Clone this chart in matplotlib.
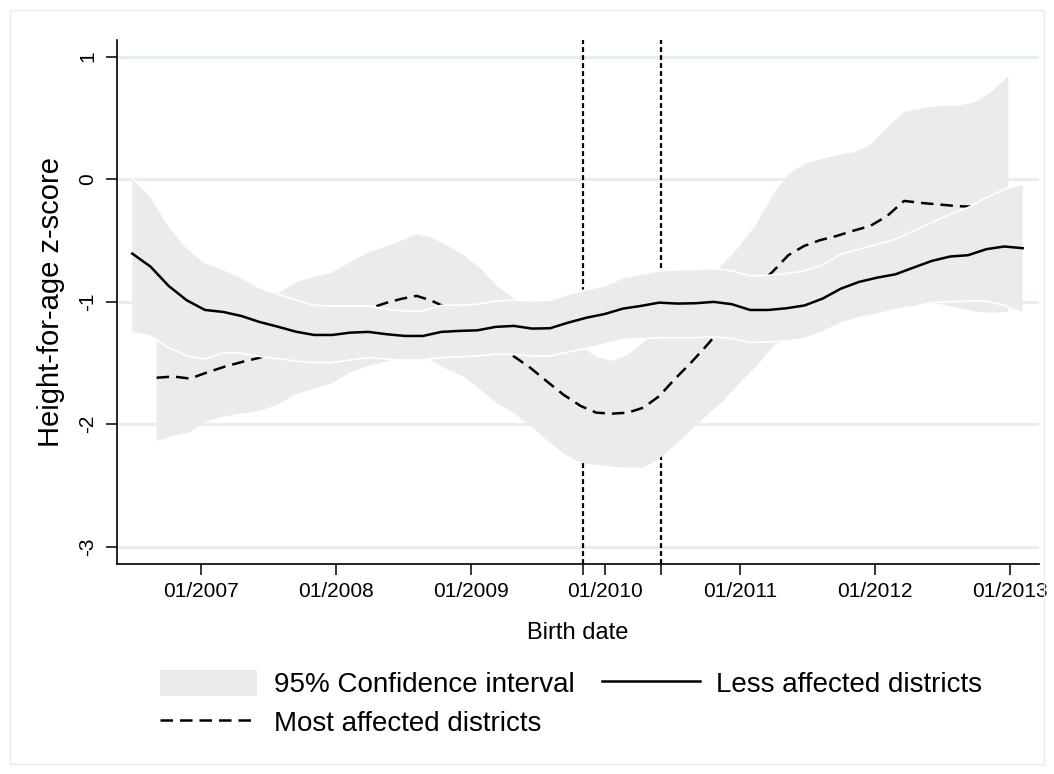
import numpy as np
import matplotlib
matplotlib.use('Agg')
import matplotlib.pyplot as plt
from matplotlib.patches import Patch, Rectangle
from matplotlib.lines import Line2D

plt.rcParams['font.family'] = ['Liberation Sans', 'DejaVu Sans']

# ---- data (x = months since 01/2007) ----
less_months = [-6.12, -4.50, -2.88, -1.27, 0.35, 1.97, 3.59, 5.21, 6.82, 8.44,
               10.06, 11.68, 13.30, 14.91, 16.53, 18.15, 19.77, 21.39, 23.00, 24.62,
               26.24, 27.86, 29.48, 31.09, 32.71, 34.33, 35.95, 37.57, 39.18, 40.80,
               42.42, 44.04, 45.66, 47.27, 48.89, 50.51, 52.13, 53.75, 55.36, 56.98,
               58.60, 60.22, 61.84, 63.45, 65.07, 66.69, 68.31, 69.93, 71.54, 73.16]
less_mean = [-0.607, -0.713, -0.871, -0.988, -1.067, -1.083, -1.116, -1.165, -1.203, -1.244,
             -1.271, -1.271, -1.252, -1.246, -1.265, -1.279, -1.279, -1.246, -1.238, -1.233,
             -1.205, -1.197, -1.219, -1.216, -1.170, -1.130, -1.100, -1.056, -1.034, -1.007,
             -1.015, -1.012, -1.001, -1.020, -1.067, -1.067, -1.053, -1.030, -0.974, -0.893,
             -0.838, -0.803, -0.776, -0.721, -0.667, -0.631, -0.620, -0.571, -0.549, -0.563]
less_upper = [0.006, -0.136, -0.380, -0.558, -0.680, -0.735, -0.803, -0.884, -0.939, -0.985,
              -1.029, -1.034, -1.034, -1.034, -1.061, -1.075, -1.075, -1.029, -1.029, -1.020,
              -0.993, -0.988, -0.993, -0.988, -0.939, -0.900, -0.870, -0.803, -0.776, -0.748,
              -0.740, -0.735, -0.729, -0.748, -0.789, -0.784, -0.770, -0.748, -0.700, -0.612,
              -0.571, -0.531, -0.490, -0.422, -0.354, -0.286, -0.231, -0.150, -0.082, -0.041]
less_lower = [-1.250, -1.280, -1.375, -1.440, -1.467, -1.415, -1.420, -1.447, -1.464, -1.483,
              -1.497, -1.497, -1.475, -1.456, -1.469, -1.475, -1.475, -1.456, -1.450, -1.442,
              -1.429, -1.429, -1.442, -1.442, -1.410, -1.380, -1.345, -1.306, -1.301, -1.293,
              -1.293, -1.293, -1.284, -1.301, -1.333, -1.328, -1.320, -1.300, -1.245, -1.175,
              -1.130, -1.100, -1.065, -1.040, -1.008, -1.000, -0.995, -0.993, -1.030, -1.090]

most_months = [-3.95, -2.46, -0.98, 0.51, 2.1, 3.7, 5.25, 6.85, 8.45, 10.05,
               11.65, 13.25, 14.85, 16.45, 17.9, 19.2, 20.5, 21.9, 23.4, 24.9,
               26.4, 27.8, 29.3, 30.8, 32.3, 33.8, 35.2, 36.6, 38.0, 39.4,
               40.8, 42.2, 43.6, 45.0, 46.5, 48.0, 49.5, 50.9, 52.3, 53.7,
               55.1, 56.6, 58.1, 59.6, 61.1, 62.6, 64.2, 65.8, 67.4, 69.0,
               70.5, 71.9]
most_mean = [-1.62, -1.61, -1.627, -1.578, -1.53, -1.49, -1.456, -1.39, -1.32, -1.24,
             -1.17, -1.11, -1.06, -1.01, -0.975, -0.952, -0.99, -1.05, -1.14, -1.24,
             -1.34, -1.442, -1.537, -1.65, -1.76, -1.85, -1.905, -1.913, -1.905, -1.864,
             -1.77, -1.63, -1.50, -1.36, -1.2, -1.03, -0.87, -0.755, -0.62, -0.545,
             -0.498, -0.463, -0.42, -0.381, -0.30, -0.177, -0.194, -0.207, -0.22, -0.225,
             -0.21, -0.19]
most_upper = [-1.10, -1.12, -1.18, -1.18, -1.12, -1.05, -0.99, -0.93, -0.843, -0.796,
              -0.762, -0.68, -0.599, -0.55, -0.50, -0.449, -0.476, -0.54, -0.62, -0.73,
              -0.875, -0.966, -1.05, -1.15, -1.25, -1.36, -1.45, -1.483, -1.435, -1.333,
              -1.2, -1.05, -0.9, -0.8, -0.69, -0.544, -0.36, -0.13, 0.04, 0.125,
              0.16, 0.195, 0.218, 0.278, 0.42, 0.55, 0.578, 0.598, 0.60, 0.63,
              0.72, 0.843]
most_lower = [-2.136, -2.095, -2.068, -1.973, -1.935, -1.91, -1.891, -1.837, -1.755, -1.71,
              -1.665, -1.578, -1.524, -1.49, -1.45, -1.44, -1.48, -1.55, -1.61, -1.72,
              -1.83, -1.905, -2.01, -2.13, -2.24, -2.313, -2.332, -2.345, -2.354, -2.354,
              -2.28, -2.17, -2.05, -1.93, -1.81, -1.66, -1.52, -1.37, -1.27, -1.22,
              -1.17, -1.12, -1.08, -1.05, -1.02, -0.99, -0.98, -1.02, -1.05, -1.08,
              -1.09, -1.08]

tick_months = [0, 12, 24, 36, 48, 60, 72]
tick_labels = ['01/2007', '01/2008', '01/2009', '01/2010', '01/2011', '01/2012', '01/2013']
event_months = [34, 41]          # 11/2009 and 06/2010
y_ticks = [1, 0, -1, -2, -3]
y_labels = ['1', '0', '-1', '-2', '-3']

band_color = '#ebebeb'
grid_color = '#e5eef0'

fig = plt.figure(figsize=(10.54, 7.74), dpi=100)
fig.patch.set_facecolor('white')
fig.patches.append(Rectangle((10/1054, 10/774), 1034/1054, 754/774, transform=fig.transFigure,
                             fill=False, edgecolor='#e6ecee', lw=1.0))

ax = fig.add_axes([117/1054, 1 - 564/774, (1039 - 117)/1054, (564 - 40)/774])
ax.set_xlim(-7.48, 74.62)
ax.set_ylim(-3.14, 1.136)

# gridlines
for yv in y_ticks:
    ax.axhline(yv, color=grid_color, lw=2.2, zorder=0.5)

# event lines
for em in event_months:
    ax.axvline(em, color='black', lw=1.6, dashes=(2.2, 1.4), zorder=1)

# most affected CI + line
ax.fill_between(most_months, most_lower, most_upper, facecolor=band_color, lw=0, zorder=2)
ax.plot(most_months, most_mean, color='black', lw=1.8, dashes=(5.0, 2.8), zorder=3)

# less affected CI (white outline) + line
ax.fill_between(less_months, less_lower, less_upper, facecolor=band_color, lw=0, zorder=4)
ax.plot(less_months, less_upper, color='white', lw=1.2, zorder=4.5)
ax.plot(less_months, less_lower, color='white', lw=1.2, zorder=4.5)
ax.plot(less_months, less_mean, color='black', lw=1.8, zorder=5)

for s in ['top', 'right']:
    ax.spines[s].set_visible(False)
for s in ['left', 'bottom']:
    ax.spines[s].set_linewidth(1.2)

ax.set_xticks(tick_months)
ax.set_xticklabels(tick_labels)
ax.set_xticks(event_months, minor=True)
ax.set_yticks(y_ticks)
ax.set_yticklabels(y_labels)
ax.tick_params(axis='both', which='both', length=8, width=1.1, direction='out', labelsize=15)
ax.tick_params(axis='x', pad=5)
ax.tick_params(axis='y', pad=6)
for lab in ax.get_yticklabels():
    lab.set_rotation(90)
    lab.set_va('center')

ax.set_xlabel('Birth date', fontsize=17, labelpad=15)
ax.set_ylabel('Height-for-age z-score', fontsize=21, labelpad=10)

handles = [Patch(facecolor=band_color, edgecolor='none'),
           Line2D([], [], color='black', lw=1.8, dashes=(5.0, 2.8)),
           Line2D([], [], color='black', lw=1.8)]
labels = ['95% Confidence interval', 'Most affected districts', 'Less affected districts']
fig.legend(handles, labels, loc='upper left', bbox_to_anchor=(160/1054, 1 - 670/774),
           ncol=2, frameon=False, fontsize=20, handlelength=3.5, handleheight=1.05,
           handletextpad=0.6, columnspacing=1.0, labelspacing=0.36, borderpad=0,
           borderaxespad=0)

fig.savefig('out.png', dpi=100)
